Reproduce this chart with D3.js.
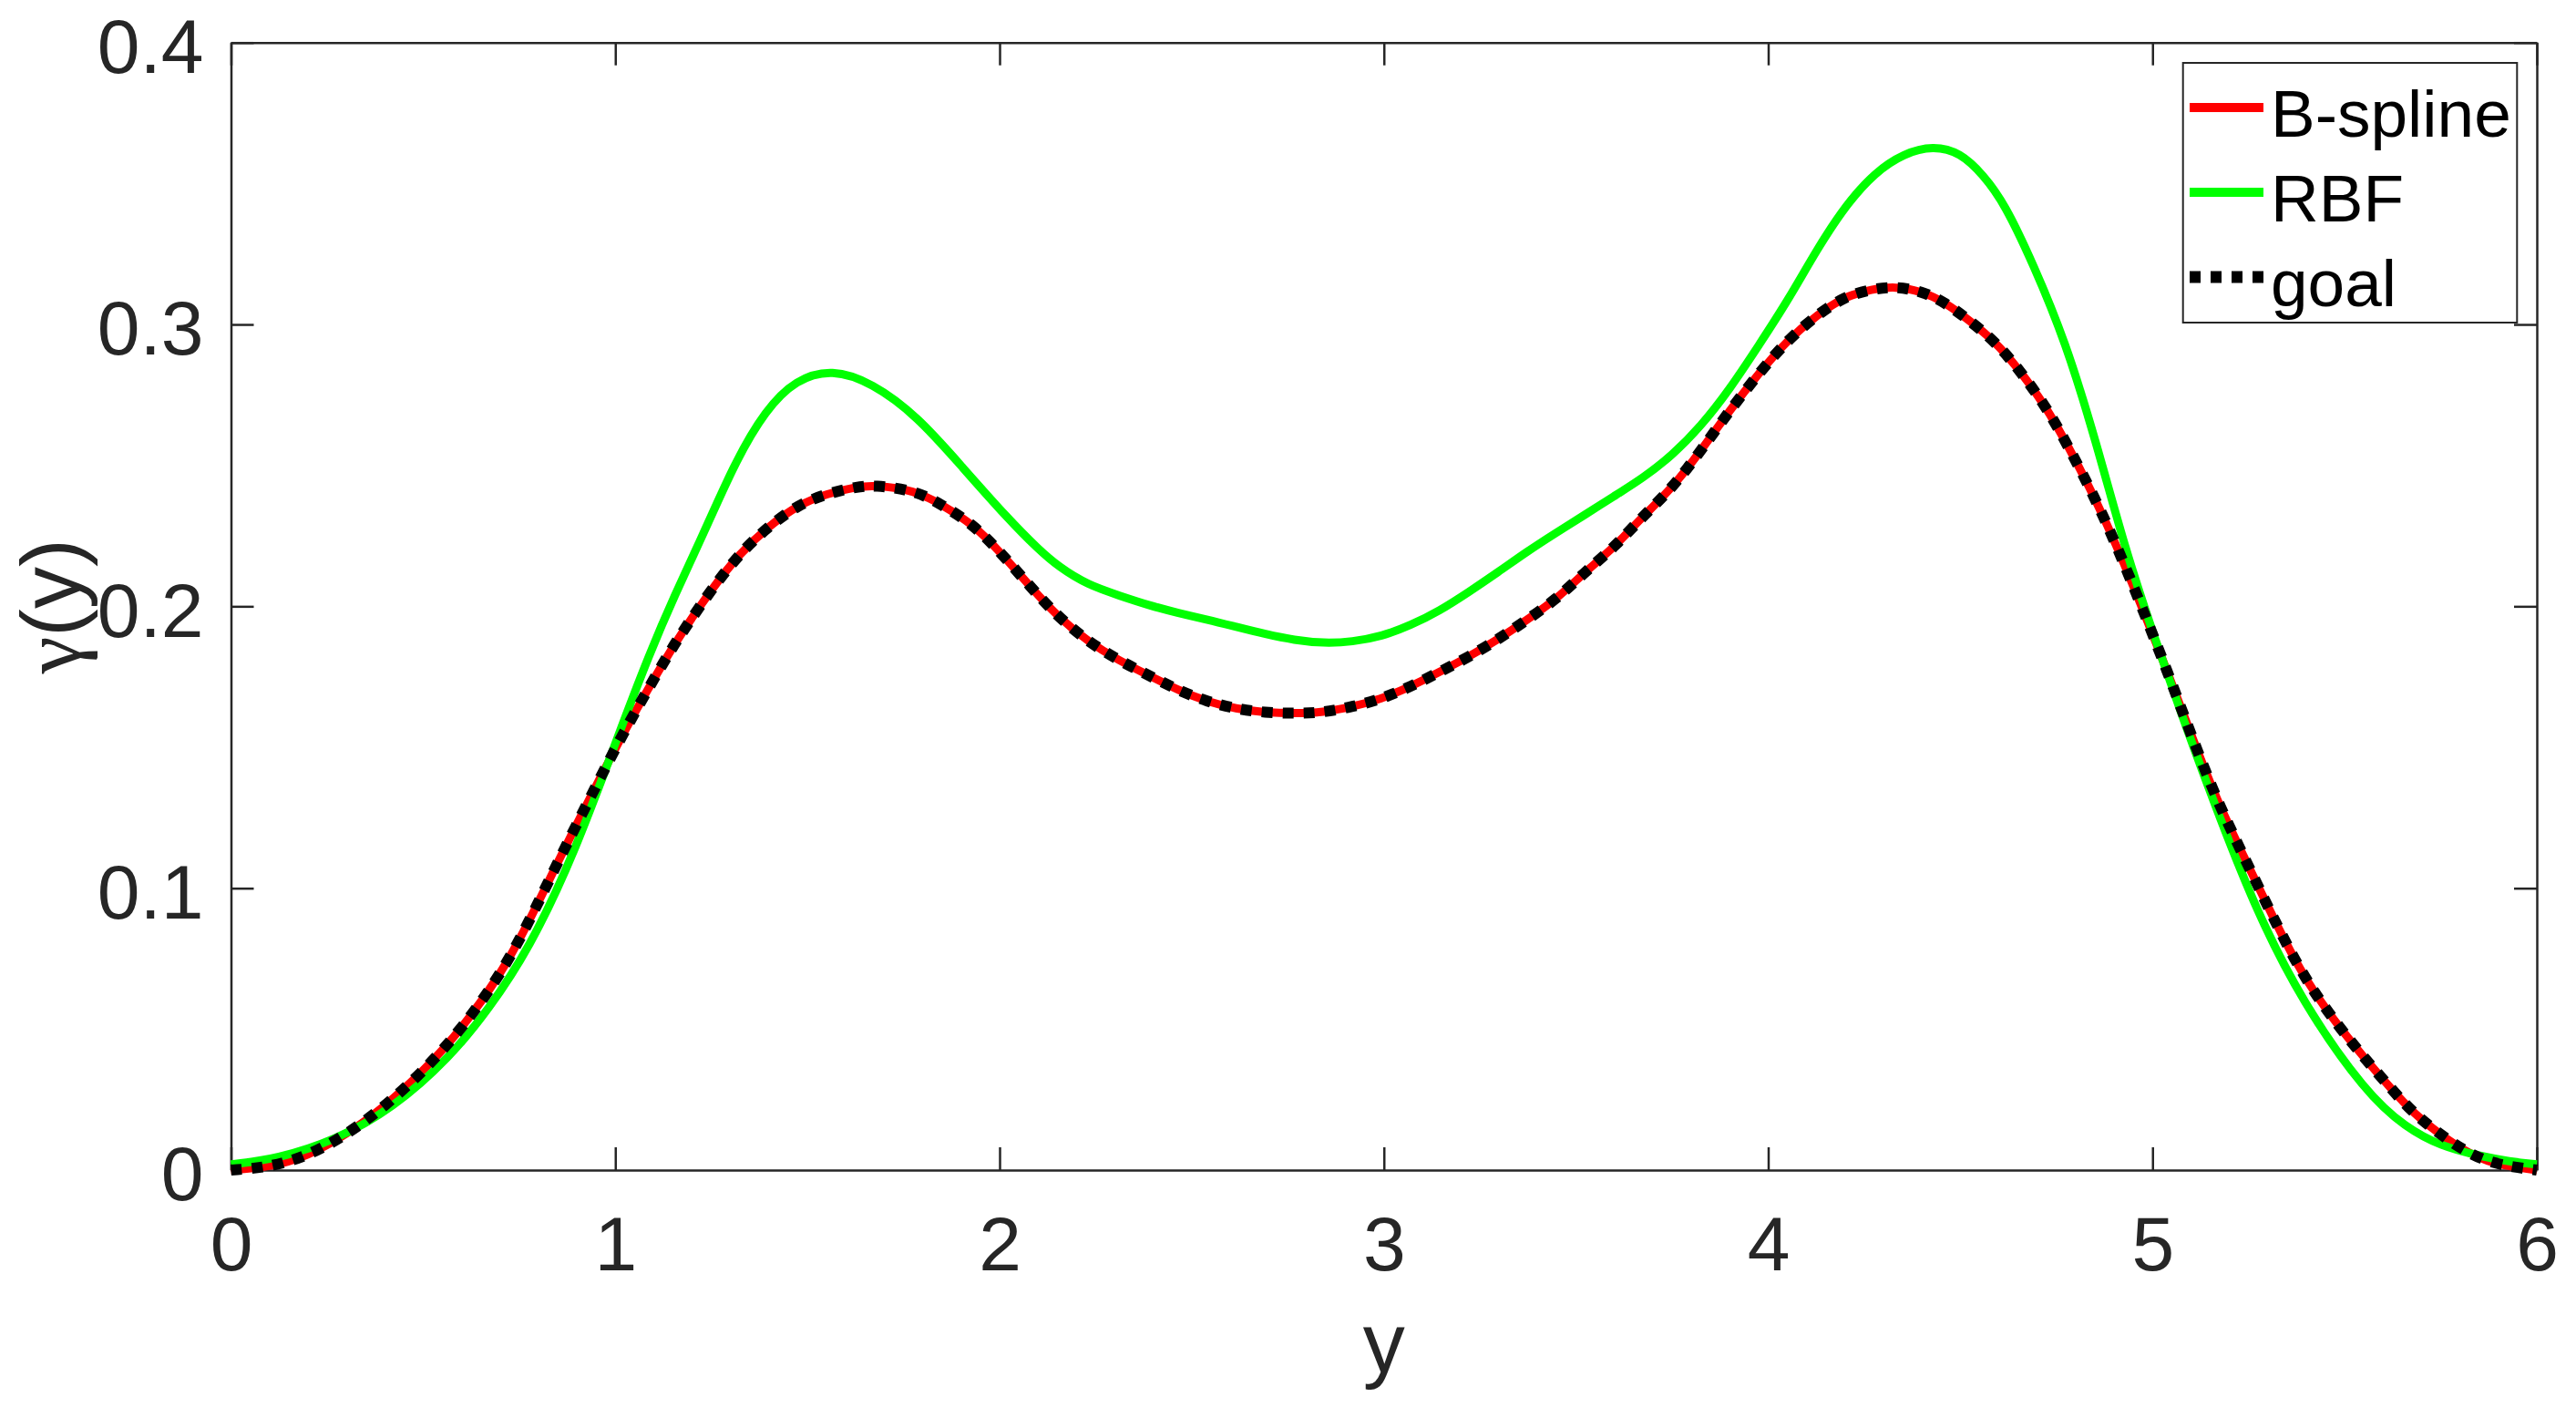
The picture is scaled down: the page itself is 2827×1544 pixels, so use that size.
<!DOCTYPE html>
<html>
<head>
<meta charset="utf-8">
<script src="https://cdn.jsdelivr.net/npm/d3@7"></script>
<style>
  body { margin: 0; background: #fff; }
  svg { display: block; }
  text { font-family: 'Liberation Sans', Arial, Helvetica, sans-serif; }
</style>
</head>
<body>
<svg></svg>
<script>
// data

var goalX = [0, 0.1, 0.2, 0.3, 0.4, 0.5, 0.6, 0.7, 0.774, 0.853, 0.956, 1.035, 1.13,
  1.175, 1.25, 1.325, 1.4, 1.476, 1.55, 1.63, 1.67, 1.78, 1.85, 1.93, 2.0, 2.08, 2.15,
  2.23, 2.31, 2.39, 2.465, 2.54, 2.616, 2.69, 2.77, 2.84, 2.92, 2.99, 3.07, 3.145,
  3.22, 3.3, 3.37, 3.45, 3.52, 3.6, 3.67, 3.75, 3.825, 3.9, 3.976, 4.05, 4.13, 4.2,
  4.27, 4.33, 4.4, 4.46, 4.52, 4.59, 4.65, 4.72, 4.78, 4.85, 4.91, 4.97, 5.04, 5.1,
  5.17, 5.23, 5.3, 5.36, 5.42, 5.49, 5.55, 5.62, 5.68, 5.75, 5.81, 5.87, 5.94, 6.0]
var goalY = [0, 0.001, 0.005, 0.0125, 0.0225, 0.035, 0.05, 0.069, 0.0876, 0.11, 0.138,
  0.1587, 0.1813, 0.191, 0.206, 0.219, 0.2285, 0.236, 0.24, 0.2424, 0.243, 0.2412,
  0.236, 0.2292, 0.2195, 0.207, 0.1965, 0.1875, 0.1808, 0.1754, 0.1702, 0.1662, 0.1636,
  0.1623, 0.162, 0.1623, 0.1644, 0.167, 0.1715, 0.1767, 0.182, 0.1885, 0.195, 0.2026,
  0.2118, 0.221, 0.2314, 0.2419, 0.2552, 0.2696, 0.2827, 0.2945, 0.3037, 0.31, 0.3125,
  0.3135, 0.3118, 0.3078, 0.3018, 0.294, 0.2845, 0.2715, 0.257, 0.2385, 0.2205,
  0.2005, 0.1765, 0.1545, 0.1304, 0.1134, 0.0935, 0.077, 0.063, 0.05, 0.04, 0.029,
  0.02, 0.0125, 0.007, 0.003, 0.001, 0]

// the B-spline fit lies on top of the goal curve
var splineX = goalX.slice()
var splineY = goalY.slice()

var rbfX = [0, 0.12, 0.27, 0.42, 0.57, 0.67, 0.774, 0.893, 1.011, 1.09, 1.153, 1.2325,
  1.312, 1.391, 1.47, 1.564, 1.667, 1.786, 1.904, 2.023, 2.102, 2.154, 2.229, 2.314,
  2.39, 2.465, 2.541, 2.616, 2.692, 2.767, 2.843, 2.918, 2.994, 3.069, 3.145, 3.22,
  3.296, 3.372, 3.447, 3.523, 3.598, 3.674, 3.749, 3.825, 3.9, 3.976, 4.051, 4.127,
  4.202, 4.278, 4.353, 4.429, 4.5, 4.56, 4.615, 4.69, 4.773, 4.852, 4.931, 5.003,
  5.089, 5.177, 5.271, 5.39, 5.556, 5.66, 5.75, 5.85, 5.93, 6.0]
var rbfY = [0.002, 0.004, 0.0105, 0.0217, 0.04, 0.057, 0.078, 0.112, 0.1555, 0.1835,
  0.2035, 0.2266, 0.2513, 0.2697, 0.2805, 0.2842, 0.2794, 0.2675, 0.2492, 0.2309,
  0.2201, 0.214, 0.2076, 0.2037, 0.2003, 0.1976, 0.1953, 0.1927, 0.1901, 0.188,
  0.1869, 0.1874, 0.1893, 0.1932, 0.1984, 0.205, 0.212, 0.2194, 0.226, 0.2325,
  0.239, 0.2455, 0.2534, 0.2639, 0.277, 0.2927, 0.3084, 0.3267, 0.3424, 0.354,
  0.3607, 0.3634, 0.361, 0.353, 0.3429, 0.3213, 0.2941, 0.259, 0.2192, 0.1897,
  0.1565, 0.1242, 0.0918, 0.0595, 0.0272, 0.015, 0.0085, 0.005, 0.003, 0.002]

var seriesNames = ['B-spline', 'RBF', 'goal']
var xTicks = [0, 1, 2, 3, 4, 5, 6]
var yTicks = [0, 0.1, 0.2, 0.3, 0.4]
var yTickLabels = ['0', '0.1', '0.2', '0.3', '0.4']

// -----------------

var w = 2827
var h = 1544
var axisColor = '#262626'

var box = { left: 253.5, right: 2784, top: 46.7, bottom: 1284 }

var svg = d3.select('svg')
    .attr('width', w)
    .attr('height', h)

var x = d3.scaleLinear()
    .domain([0, 6])
    .range([box.left, box.right])

var y = d3.scaleLinear()
    .domain([0, 0.4])
    .range([box.bottom, box.top])

var tick = 25

function styleAxis (sel) {
  sel.select('.domain')
    .attr('stroke', axisColor)
    .attr('stroke-width', 2.5)
  sel.selectAll('.tick line')
    .attr('stroke', axisColor)
    .attr('stroke-width', 2.5)
  sel.selectAll('text')
    .attr('fill', axisColor)
    .style('font-size', '84px')
    .style('font-family', "'Liberation Sans', Arial, sans-serif")
}

// bottom + top
svg.append('g')
    .attr('transform', 'translate(0,' + box.bottom + ')')
    .call(d3.axisBottom(x).tickValues(xTicks).tickSizeInner(-tick).tickSizeOuter(0)
      .tickPadding(50).tickFormat(d3.format('d')))
    .call(styleAxis)

svg.append('g')
    .attr('transform', 'translate(0,' + box.top + ')')
    .call(d3.axisTop(x).tickValues(xTicks).tickSizeInner(-tick).tickSizeOuter(0)
      .tickFormat(''))
    .call(styleAxis)

// left + right
svg.append('g')
    .attr('transform', 'translate(' + box.left + ',0)')
    .call(d3.axisLeft(y).tickValues(yTicks).tickSizeInner(-tick).tickSizeOuter(0)
      .tickPadding(30).tickFormat(function (d, i) { return yTickLabels[i] }))
    .call(styleAxis)
    .selectAll('text')
    .attr('dy', '0.39em')

svg.append('g')
    .attr('transform', 'translate(' + box.right + ',0)')
    .call(d3.axisRight(y).tickValues(yTicks).tickSizeInner(-tick).tickSizeOuter(0)
      .tickFormat(''))
    .call(styleAxis)

// axis labels
svg.append('text')
    .text('y')
    .attr('x', x(3))
    .attr('y', 1506)
    .attr('text-anchor', 'middle')
    .attr('fill', axisColor)
    .style('font-size', '92px')

var ylab = svg.append('text')
    .attr('transform', 'translate(88,' + ((box.top + box.bottom) / 2) + ') rotate(-90)')
    .attr('text-anchor', 'middle')
    .attr('fill', axisColor)
    .style('font-size', '92px')

ylab.append('tspan')
    .text('γ')
    .style('font-family', "'Liberation Serif', 'DejaVu Serif', serif")
ylab.append('tspan')
    .text('(y)')

// ------------------

var series = [
  { name: seriesNames[0], xs: splineX, ys: splineY, color: '#ff0000', width: 9, dash: null },
  { name: seriesNames[1], xs: rbfX, ys: rbfY, color: '#00ff00', width: 9, dash: null },
  { name: seriesNames[2], xs: goalX, ys: goalY, color: '#000000', width: 12, dash: '12 11' }
]

var line = d3.line()
    .x(function (d) { return x(d[0]) })
    .y(function (d) { return y(d[1]) })
    .curve(d3.curveBasis)

svg.append('g').selectAll('path')
    .data(series)
    .enter()
    .append('path')
    .attr('d', function (s) {
      return line(s.xs.map(function (v, i) { return [v, s.ys[i]] }))
    })
    .attr('fill', 'none')
    .attr('stroke', function (s) { return s.color })
    .attr('stroke-width', function (s) { return s.width })
    .attr('stroke-dasharray', function (s) { return s.dash })
    .attr('stroke-linejoin', 'round')

legend(series)

function legend (data) {
  var lg = svg.append('g')

  lg.append('rect')
      .attr('x', 2395.7)
      .attr('y', 69)
      .attr('width', 2762.3 - 2395.7)
      .attr('height', 354 - 69)
      .attr('fill', '#fff')
      .attr('stroke', axisColor)
      .attr('stroke-width', 2)

  var rows = lg.selectAll('g.row')
      .data(data)
      .enter()
      .append('g')
      .attr('transform', function (d, i) {
        return 'translate(0,' + (118 + i * 93) + ')'
      })

  rows.append('line')
      .attr('x1', 2403)
      .attr('x2', 2484)
      .attr('stroke', function (d) { return d.color })
      .attr('stroke-width', function (d) { return d.dash ? 13 : 10 })
      .attr('stroke-dasharray', function (d) { return d.dash })

  rows.append('text')
      .text(function (d) { return d.name })
      .attr('x', 2492)
      .attr('y', 32)
      .attr('fill', '#000')
      .style('font-size', '73px')
}
</script>
</body>
</html>
